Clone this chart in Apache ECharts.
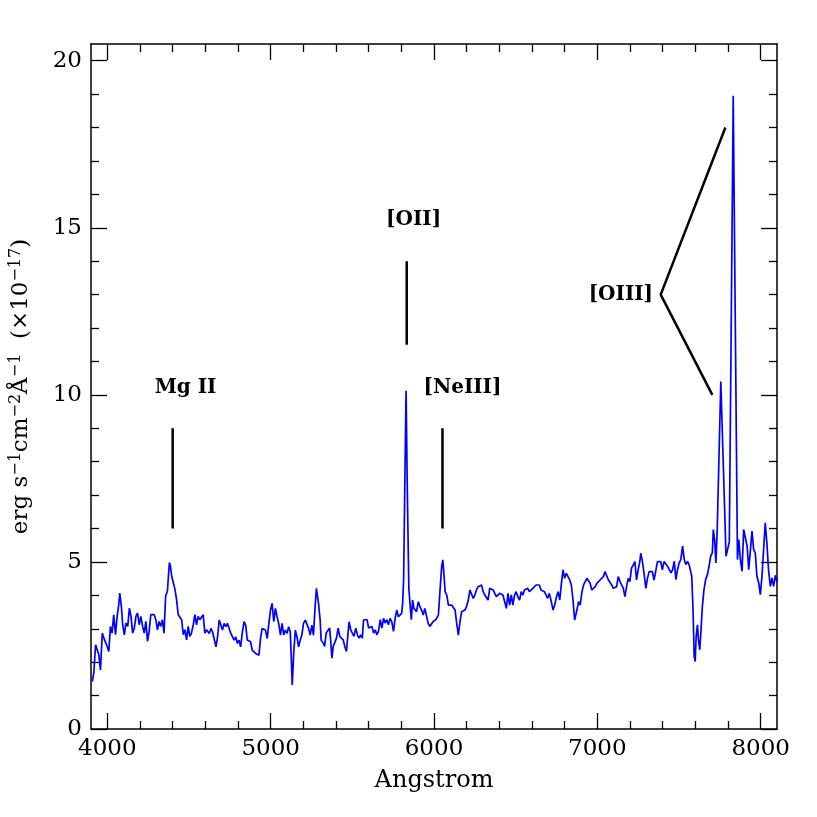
<!DOCTYPE html>
<html>
<head>
<meta charset="utf-8">
<script src="https://cdn.jsdelivr.net/npm/echarts@6/dist/echarts.min.js"></script>
<style>html,body{margin:0;padding:0;background:#fff}#c{width:817px;height:817px}</style>
</head>
<body>
<div id="c"></div>
<script>
// Spectrum: wavelength (Angstrom) and flux (1e-17 erg/s/cm2/A)
const wavelength = [
3908,3918,3928,3938,3948,3958,3969,3979,3989,3999,4009,4019,4029,4039,4050,4060,4070,4076,4086,4094,
4104,4114,4125,4135,4145,4155,4165,4175,4185,4195,4205,4216,4226,4236,4246,4256,4266,4276,4287,4297,
4307,4317,4327,4337,4347,4357,4368,4374,4380,4386,4394,4404,4414,4424,4434,4445,4455,4465,4475,4485,
4495,4505,4515,4526,4536,4546,4556,4566,4576,4587,4597,4607,
4624,4634,4644,4654,4665,4675,4685,4695,4705,4715,4725,4735,4746,4756,4766,4776,4786,4796,4806,4816,
4827,4837,4847,4857,4867,4877,4887,4898,4908,4918,4928,4938,4948,4958,4968,4979,4989,4999,5009,5019,
5029,5039,5049,5060,5070,5080,5090,5100,5110,5120,5126,5132,5141,5151,5161,5171,5181,5191,5201,5212,
5222,5232,5242,5252,5262,5272,5280,5293,5303,5309,
5322,5330,5340,5350,5361,5367,5375,5383,5393,5403,5413,5423,5434,5444,5454,5464,5472,5480,5490,5500,
5510,5521,5531,5541,5551,5561,5569,5579,5590,5600,5610,5620,5630,5640,5650,5660,5671,5681,5691,5701,
5711,5721,5731,5741,5752,5762,5772,5782,5792,5802,5808,5814,5821,5829,5837,5846,5853,5861,
5869,5877,5885,5893,5904,5914,5924,5934,5944,5954,5964,5974,5985,5995,6011,
6017,6027,6037,6047,6054,6062,6068,6078,6088,6098,6108,6118,6129,6139,6149,6159,6169,6179,6189,6199,
6210,6220,6230,6240,6250,6260,6270,6280,6291,6301,6311,6321,6331,6341,6351,6362,6372,6382,6392,6402,
6412,6422,6432,6443,6453,6463,6473,6483,6493,6503,6513,6524,6534,6544,6554,6564,6574,6584,6595,6605,
6615,6625,6635,6645,6655,6665,6676,6686,6696,6706,6716,
6729,6739,6750,6760,6770,6780,6790,6800,6810,6821,6831,6841,6851,6861,6867,6875,6885,6895,6906,6916,
6926,6936,6946,6956,6966,6976,6987,6997,7007,7017,7027,7037,7047,7058,7068,7078,7088,7098,7108,7118,
7128,7139,7149,7159,7169,7179,7189,7199,7209,7220,7230,7240,7250,7260,7266,7276,7286,7297,7307,7317,
7327,7337,7347,7357,7368,7378,7388,7398,7408,7418,
7430,7441,7451,7461,7471,7481,7491,7501,7511,7522,7532,7542,7552,7562,7572,7578,7586,7593,7599,7605,
7613,7619,7627,7635,7643,7653,7663,7674,7684,7694,7704,7710,7718,7726,7734,7756,7788,7808,7832,7858,
7866,7876,7886,7896,7907,7917,7927,7937,7947,7957,7967,7977,7988,7998,8008,8018,8028,8038,8048,8059,
8069,8079,8090,8100
];
const flux = [
1.42,1.72,2.52,2.57,2.22,1.77,2.87,2.72,2.77,2.47,2.32,3.07,2.87,3.42,2.82,3.37,3.72,4.07,3.67,3.12,
2.82,3.17,3.07,3.62,3.37,2.87,3.02,3.37,3.47,3.12,3.37,3.07,2.87,3.22,2.62,2.92,3.42,3.47,3.42,3.27,
2.97,3.22,3.07,3.27,2.87,3.98,4.13,4.58,4.98,4.88,4.58,4.63,4.18,3.87,3.42,3.37,3.27,2.82,2.97,2.67,
3.07,2.77,2.87,3.12,3.42,3.12,3.37,3.27,3.32,3.42,2.87,2.97,
2.86,3.01,2.91,2.96,2.46,2.76,3.26,3.11,2.96,3.16,3.06,3.16,3.01,2.86,2.91,2.66,2.76,2.56,2.66,2.46,
2.91,3.21,3.11,2.66,2.71,2.61,2.36,2.41,2.26,2.31,2.21,2.71,3.01,3.06,2.96,2.71,3.16,3.56,3.76,3.21,
3.61,3.36,3.16,2.81,3.16,2.81,2.96,2.86,3.06,2.91,2.16,1.32,2.26,2.96,2.76,2.46,2.66,2.81,3.16,3.26,
3.26,3.01,2.81,3.11,2.81,3.66,4.21,3.76,3.26,2.66,
2.57,2.47,2.87,2.92,3.02,2.67,2.12,2.47,2.42,2.72,3.02,2.77,2.82,2.67,2.47,2.32,2.77,3.21,2.97,2.97,
2.77,3.02,2.82,2.72,2.82,2.72,3.27,3.31,3.27,3.02,2.97,3.07,2.87,2.97,2.82,2.92,3.27,3.02,3.31,3.17,
3.27,3.12,3.31,3.22,2.92,3.31,3.56,3.36,3.31,3.46,3.76,4.46,7.2,10.12,7.0,4.2,3.76,3.27,
3.86,3.61,3.66,3.51,3.81,3.66,3.56,3.41,3.61,3.66,3.17,3.07,3.02,3.22,3.27,
3.31,3.41,4.16,4.86,5.06,4.56,4.11,4.01,3.71,3.76,3.71,3.71,3.56,3.16,2.81,3.21,3.51,3.56,3.56,3.66,
3.86,4.16,4.11,3.91,4.01,4.16,4.26,4.31,4.31,4.11,4.01,3.96,3.86,4.21,4.26,4.16,4.06,3.96,4.01,4.06,
4.11,4.01,3.96,3.61,4.06,3.71,4.01,3.71,4.01,4.11,3.96,3.86,4.11,4.01,4.16,4.11,4.21,4.11,4.16,4.21,
4.16,4.31,4.36,4.31,4.16,4.11,4.11,4.06,3.91,4.06,3.86,
3.56,3.71,3.96,4.11,3.86,4.36,4.76,4.51,4.66,4.71,4.46,4.31,3.86,3.26,3.21,3.56,3.81,3.71,4.11,4.31,
4.41,4.51,4.56,4.36,4.16,4.11,4.26,4.36,4.36,4.46,4.46,4.56,4.71,4.76,4.46,4.41,4.31,4.21,4.16,4.26,
4.56,4.41,4.36,4.21,3.96,4.26,4.51,4.41,4.81,4.91,5.01,4.46,4.76,5.01,5.26,5.01,4.66,4.21,4.51,4.71,
4.66,4.71,4.46,4.71,5.01,4.96,5.01,4.76,5.01,5.06,
4.87,4.82,4.67,4.77,5.02,4.47,4.77,4.97,5.07,5.47,5.07,4.92,5.02,4.92,4.97,4.57,3.57,2.17,2.02,2.77,
3.12,2.67,2.37,2.97,3.67,4.17,4.47,4.62,4.87,5.17,5.27,5.97,5.67,4.97,5.97,10.40,5.17,5.6,18.95,5.07,
5.67,5.07,4.72,5.97,5.92,5.47,4.77,4.72,5.92,5.37,5.27,4.57,4.37,4.02,4.57,5.37,6.17,5.57,4.77,4.27,
4.52,4.27,4.6,4.4
];

// Axis ticks
const xMajorTicks = [4000, 5000, 6000, 7000, 8000];
const xMinorTicks = [4200,4400,4600,4800,5200,5400,5600,5800,6200,6400,6600,6800,7200,7400,7600,7800];
const yMajorTicks = [0, 5, 10, 15, 20];
const yMinorTicks = [1,2,3,4,6,7,8,9,11,12,13,14,16,17,18,19];

// Line identifications
const markerNames = ['Mg II', '[OII]', '[NeIII]'];
const markerX = [4400, 5833, 6052];
const markerY0 = [6, 11.5, 6];
const markerY1 = [9, 14, 9];
const labelX = [4479, 5875, 6174];
const labelY = [10.2, 15.24, 10.2];
const oiiiLabel = '[OIII]';
const oiiiBracketX = [7784, 7388, 7704];
const oiiiBracketY = [18, 13, 10];
const oiiiLabelX = 7144;
const oiiiLabelY = 13;

const specData = wavelength.map((w, i) => [w, flux[i]]);

const serif = '"DejaVu Serif", serif';
const XMIN = 3900, XMAX = 8100, YMIN = 0, YMAX = 20.5;
const lineStyleAxis = {color: '#000', width: 1.5};
const fmt = v => String(v);

function xAx(pos, major, labels) {
  return {
    type: 'value', position: pos, min: XMIN, max: XMAX,
    axisLine: {show: major, onZero: false, lineStyle: lineStyleAxis},
    axisTick: {show: true, inside: true, length: major ? 16 : 8,
      customValues: major ? xMajorTicks : xMinorTicks, lineStyle: {color: '#000', width: 1.3}},
    axisLabel: labels ? {show: true, customValues: xMajorTicks, margin: 9, formatter: fmt,
      color: '#000', fontFamily: serif, fontSize: 23} : {show: false},
    splitLine: {show: false},
    name: labels ? 'Angstrom' : '', nameLocation: 'middle', nameGap: 40,
    nameTextStyle: {color: '#000', fontFamily: serif, fontSize: 24}
  };
}
function yAx(pos, major, labels) {
  return {
    type: 'value', position: pos, min: YMIN, max: YMAX,
    axisLine: {show: major, onZero: false, lineStyle: lineStyleAxis},
    axisTick: {show: true, inside: true, length: major ? 16 : 8,
      customValues: major ? yMajorTicks : yMinorTicks, lineStyle: {color: '#000', width: 1.3}},
    axisLabel: labels ? {show: true, customValues: yMajorTicks, margin: 9, formatter: fmt,
      color: '#000', fontFamily: serif, fontSize: 23} : {show: false},
    splitLine: {show: false},
    name: labels ? 'erg s{sup|\u22121}cm{sup|\u22122}\u00C5{sup|\u22121}  (\u00D710{sup|\u221217})' : '',
    nameLocation: 'middle', nameGap: 56, nameRotate: 90,
    nameTextStyle: {color: '#000', fontFamily: serif, fontSize: 23, lineHeight: 27,
      rich: {sup: {fontFamily: serif, fontSize: 16, color: '#000', verticalAlign: 'top', lineHeight: 16}}}
  };
}

const annLines = [];
markerNames.forEach((n, i) => {
  annLines.push({
    type: 'line', xAxisIndex: 0, yAxisIndex: 0, symbol: 'none', silent: true,
    lineStyle: {color: '#000', width: 2.5},
    data: [[markerX[i], markerY0[i]], [markerX[i], markerY1[i]]], z: 3
  });
});
annLines.push({
  type: 'line', xAxisIndex: 0, yAxisIndex: 0, symbol: 'none', silent: true,
  lineStyle: {color: '#000', width: 2.5},
  data: oiiiBracketX.map((x, i) => [x, oiiiBracketY[i]]), z: 3
});

const labelData = markerNames.map((n, i) => ({name: n, value: [labelX[i], labelY[i]]}));
labelData.push({name: oiiiLabel, value: [oiiiLabelX, oiiiLabelY]});

const chart = echarts.init(document.getElementById('c'), null, {renderer: 'canvas'});
chart.setOption({
  backgroundColor: '#fff',
  animation: false,
  grid: {left: 88, right: 40, top: 44, bottom: 88, containLabel: false},
  xAxis: [xAx('bottom', true, true), xAx('bottom', false, false), xAx('top', true, false), xAx('top', false, false)],
  yAxis: [yAx('left', true, true), yAx('left', false, false), yAx('right', true, false), yAx('right', false, false)],
  series: [
    {
      type: 'line', xAxisIndex: 0, yAxisIndex: 0, data: specData, symbol: 'none',
      lineStyle: {color: '#0000ff', width: 1.7}, z: 2
    },
    ...annLines,
    {
      type: 'scatter', xAxisIndex: 0, yAxisIndex: 0, data: labelData, symbolSize: 0, silent: true,
      itemStyle: {opacity: 1},
      label: {show: true, position: 'inside', formatter: p => p.name, color: '#000', opacity: 1,
        fontFamily: serif, fontWeight: 'bold', fontSize: 20}
    }
  ]
});
</script>
</body>
</html>
